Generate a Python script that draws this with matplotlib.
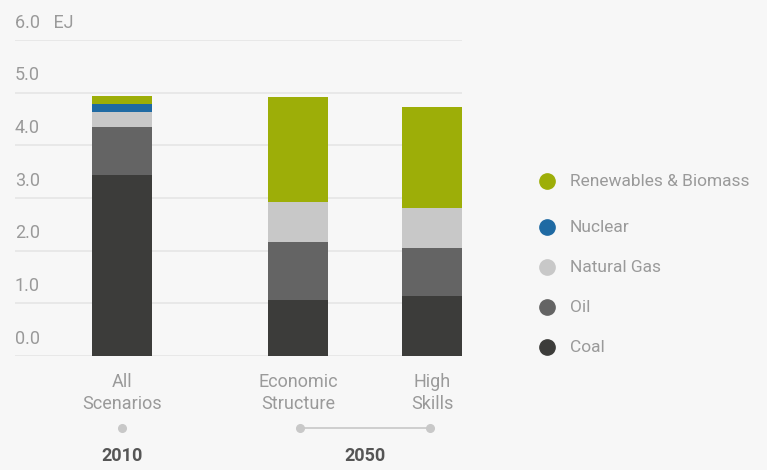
import matplotlib
matplotlib.use("Agg")
import matplotlib.pyplot as plt
from matplotlib.lines import Line2D

# data (EJ)
scenarios = ["All\nScenarios", "Economic\nStructure", "High\nSkills"]
years = ["2010", "2050"]
coal = [3.44, 1.06, 1.14]
oil = [0.91, 1.10, 0.91]
natural_gas = [0.28, 0.76, 0.76]
nuclear = [0.15, 0.0, 0.0]
renewables = [0.16, 2.00, 1.92]
y_ticks = [0.0, 1.0, 2.0, 3.0, 4.0, 5.0, 6.0]

series = [
    ("Coal", coal, "#3c3c3a"),
    ("Oil", oil, "#646464"),
    ("Natural Gas", natural_gas, "#c8c8c8"),
    ("Nuclear", nuclear, "#1f6aa3"),
    ("Renewables & Biomass", renewables, "#9dae08"),
]

plt.rcParams["font.family"] = ["Roboto", "DejaVu Sans"]
bg = "#f7f7f7"
txt = "#9a9a9a"

fig = plt.figure(figsize=(7.67, 4.70), dpi=100, facecolor=bg)
ax = fig.add_axes([15 / 767, 114 / 470, 447 / 767, 316 / 470], facecolor=bg)

xpos = [0, 176 / 60, 310 / 60]
bottom = [0.0] * len(xpos)
for name, vals, col in series:
    ax.bar(xpos, vals, width=1.0, bottom=bottom, color=col, linewidth=0, zorder=3)
    bottom = [b + v for b, v in zip(bottom, vals)]

ax.set_xlim(-107 / 60, 340 / 60)
ax.set_ylim(0, 6)
for s in ax.spines.values():
    s.set_visible(False)
ax.set_yticks(y_ticks)
ax.yaxis.grid(True, color="#e6e6e6", linewidth=1.2, zorder=0)
ax.tick_params(axis="y", length=0, labelleft=False)
for v in y_ticks:
    lab = f"{v:.1f}" + ("   EJ" if v == 6.0 else "")
    ax.text(-107 / 60, v + 0.33, lab, ha="left", va="center", fontsize=13, color=txt)

ax.set_xticks(xpos, scenarios)
ax.tick_params(axis="x", length=0, pad=12, labelsize=13, labelcolor=txt)
for t in ax.get_xticklabels():
    t.set_linespacing(1.3)

# year timeline under the categories
tr = ax.get_xaxis_transform()
ax.plot([xpos[0]], [-0.228], "o", color="#c8c8c8", ms=5.5, transform=tr, clip_on=False)
ax.plot([xpos[1] + 0.03, xpos[2] - 0.03], [-0.228, -0.228], "-o", color="#c8c8c8",
        ms=5.5, lw=1.2, transform=tr, clip_on=False)
ax.text(xpos[0], -0.316, years[0], transform=tr, ha="center", va="center",
        fontsize=13, fontweight="bold", color="#555555")
ax.text((xpos[1] + xpos[2]) / 2, -0.316, years[1], transform=tr, ha="center",
        va="center", fontsize=13, fontweight="bold", color="#555555")

# legend
leg_y = [347, 307, 267, 227, 181]
for (name, vals, col), py in zip(series, leg_y):
    fig.add_artist(Line2D([547 / 767], [1 - py / 470], marker="o", ms=11, color=col,
                          linestyle="none", transform=fig.transFigure))
    fig.text(570 / 767, 1 - py / 470, name, ha="left", va="center", fontsize=12.5, color=txt)

fig.savefig("out.png", dpi=100, facecolor=bg)
